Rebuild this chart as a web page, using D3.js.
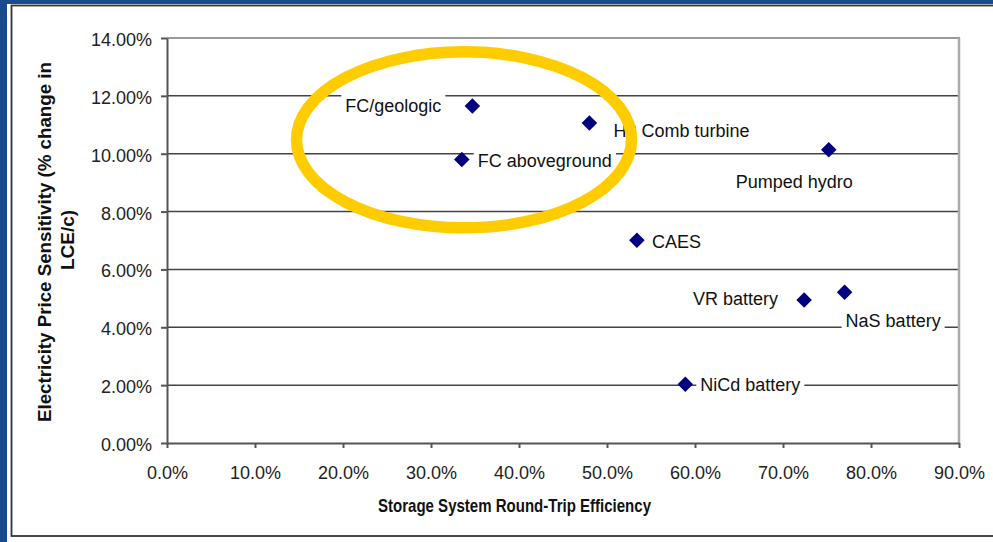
<!DOCTYPE html>
<meta charset="utf-8">
<style>
body { margin: 0; background: #174b8e; }
svg { display: block; font-family: "Liberation Sans", Arial, sans-serif; }
.axis path, .axis line { stroke: #555; stroke-width: 2px; }
.axis text { font-size: 18px; fill: #222; }
.grid { stroke: #444; stroke-width: 1.5px; }
.lbl { font-size: 18px; fill: #111; }
.title { font-size: 19px; font-weight: bold; fill: #111; }
</style>
<body>
<script src="https://d3js.org/d3.v7.min.js"></script>
<script>

// data
var names = ["FC/geologic", "H2 Comb turbine", "FC aboveground", "Pumped hydro",
             "CAES", "VR battery", "NaS battery", "NiCd battery"];
var efficiency = [0.347, 0.480, 0.335, 0.752, 0.534, 0.724, 0.770, 0.589];
var sensitivity = [0.1165, 0.1106, 0.0980, 0.1014, 0.0701, 0.0494, 0.0521, 0.0203];
var xTicks = [0, 0.1, 0.2, 0.3, 0.4, 0.5, 0.6, 0.7, 0.8, 0.9];
var yTicks = [0, 0.02, 0.04, 0.06, 0.08, 0.10, 0.12, 0.14];

// label placement relative to each point (layout only)
var labelPos = {
  "FC/geologic":     {dx: -31, dy: 6,  anchor: "end"},
  "H2 Comb turbine": {dx: 24,  dy: 14, anchor: "start"},
  "FC aboveground":  {dx: 16,  dy: 7,  anchor: "start"},
  "Pumped hydro":    {dx: -93, dy: 38, anchor: "start"},
  "CAES":            {dx: 15,  dy: 8,  anchor: "start"},
  "VR battery":      {dx: -26, dy: 5,  anchor: "end"},
  "NaS battery":     {dx: 1,   dy: 35, anchor: "start"},
  "NiCd battery":    {dx: 15,  dy: 7,  anchor: "start"}
};

var W = 993, H = 542;
var plotL = 167, plotR = 959, plotT = 38, plotB = 443;

var svg = d3.select("body").append("svg")
    .attr("width", W)
    .attr("height", H);

// white slide panel with frame
svg.append("rect").attr("x", 7).attr("y", 4).attr("width", W).attr("height", H)
    .attr("fill", "#fff");
svg.append("rect").attr("x", 11.5).attr("y", 5.5).attr("width", W).attr("height", 530.5)
    .attr("fill", "none").attr("stroke", "#333").attr("stroke-width", 1.8);

var x = d3.scaleLinear().domain([0, 0.9]).range([plotL, plotR]);
var y = d3.scaleLinear().domain([0, 0.14]).range([plotB, plotT]);

// gridlines
svg.selectAll(".grid")
    .data(yTicks.filter(function(d) { return d > 0 && d < 0.14; }))
  .enter().append("line")
    .attr("class", "grid")
    .attr("x1", plotL).attr("x2", plotR)
    .attr("y1", function(d) { return y(d); })
    .attr("y2", function(d) { return y(d); });

// plot border top and right
svg.append("line").attr("x1", plotL).attr("x2", plotR + 1)
    .attr("y1", plotT).attr("y2", plotT)
    .attr("stroke", "#9a9a9a").attr("stroke-width", 2);
svg.append("line").attr("x1", plotR).attr("x2", plotR)
    .attr("y1", plotT).attr("y2", plotB)
    .attr("stroke", "#aaa").attr("stroke-width", 2.5);

// axes
var yAxis = svg.append("g")
    .attr("class", "axis")
    .attr("transform", "translate(" + plotL + ",0)")
    .call(d3.axisLeft(y).tickValues(yTicks).tickFormat(d3.format(".2%"))
      .tickSizeInner(6).tickSizeOuter(0).tickPadding(9));
yAxis.selectAll("text").attr("dy", "0.42em");

var xAxis = svg.append("g")
    .attr("class", "axis")
    .attr("transform", "translate(0," + plotB + ")")
    .call(d3.axisBottom(x).tickValues(xTicks).tickFormat(d3.format(".1%"))
      .tickSizeInner(5).tickSizeOuter(0).tickPadding(18));

// axis titles
svg.append("text")
    .attr("class", "title")
    .attr("x", 378).attr("y", 512)
    .attr("textLength", 273).attr("lengthAdjust", "spacingAndGlyphs")
    .text("Storage System Round-Trip Efficiency");

svg.append("text")
    .attr("class", "title")
    .attr("transform", "translate(51,242) rotate(-90)")
    .attr("text-anchor", "middle")
    .attr("textLength", 360).attr("lengthAdjust", "spacingAndGlyphs")
    .text("Electricity Price Sensitivity (% change in");

svg.append("text")
    .attr("class", "title")
    .attr("transform", "translate(74,240) rotate(-90)")
    .attr("text-anchor", "middle")
    .text("LCE/c)");

var data = names.map(function(n, i) {
  return {name: n, x: efficiency[i], y: sensitivity[i]};
});

// labels with white backgrounds
var lab = svg.selectAll(".lab")
    .data(data)
  .enter().append("g");

lab.append("text")
    .attr("class", "lbl")
    .attr("x", function(d) { return x(d.x) + labelPos[d.name].dx; })
    .attr("y", function(d) { return y(d.y) + labelPos[d.name].dy; })
    .attr("text-anchor", function(d) { return labelPos[d.name].anchor; })
    .text(function(d) { return d.name; });

lab.each(function() {
  var g = d3.select(this);
  var b = g.select("text").node().getBBox();
  g.insert("rect", "text")
      .attr("x", b.x - 4).attr("y", b.y - 1)
      .attr("width", b.width + 8).attr("height", b.height + 2)
      .attr("fill", "#fff");
});

// points
svg.selectAll(".pt")
    .data(data)
  .enter().append("path")
    .attr("d", d3.symbol(d3.symbolSquare, 121))
    .attr("transform", function(d) {
      return "translate(" + x(d.x) + "," + y(d.y) + ") rotate(45)";
    })
    .attr("fill", "#000080");

// highlight ellipse around the fuel cell / hydrogen group
svg.append("ellipse")
    .attr("cx", x(0.3375)).attr("cy", y(0.1048))
    .attr("rx", 167.5).attr("ry", 88)
    .attr("fill", "none")
    .attr("stroke", "#ffcc00")
    .attr("stroke-width", 11.5);

</script>
</body>
